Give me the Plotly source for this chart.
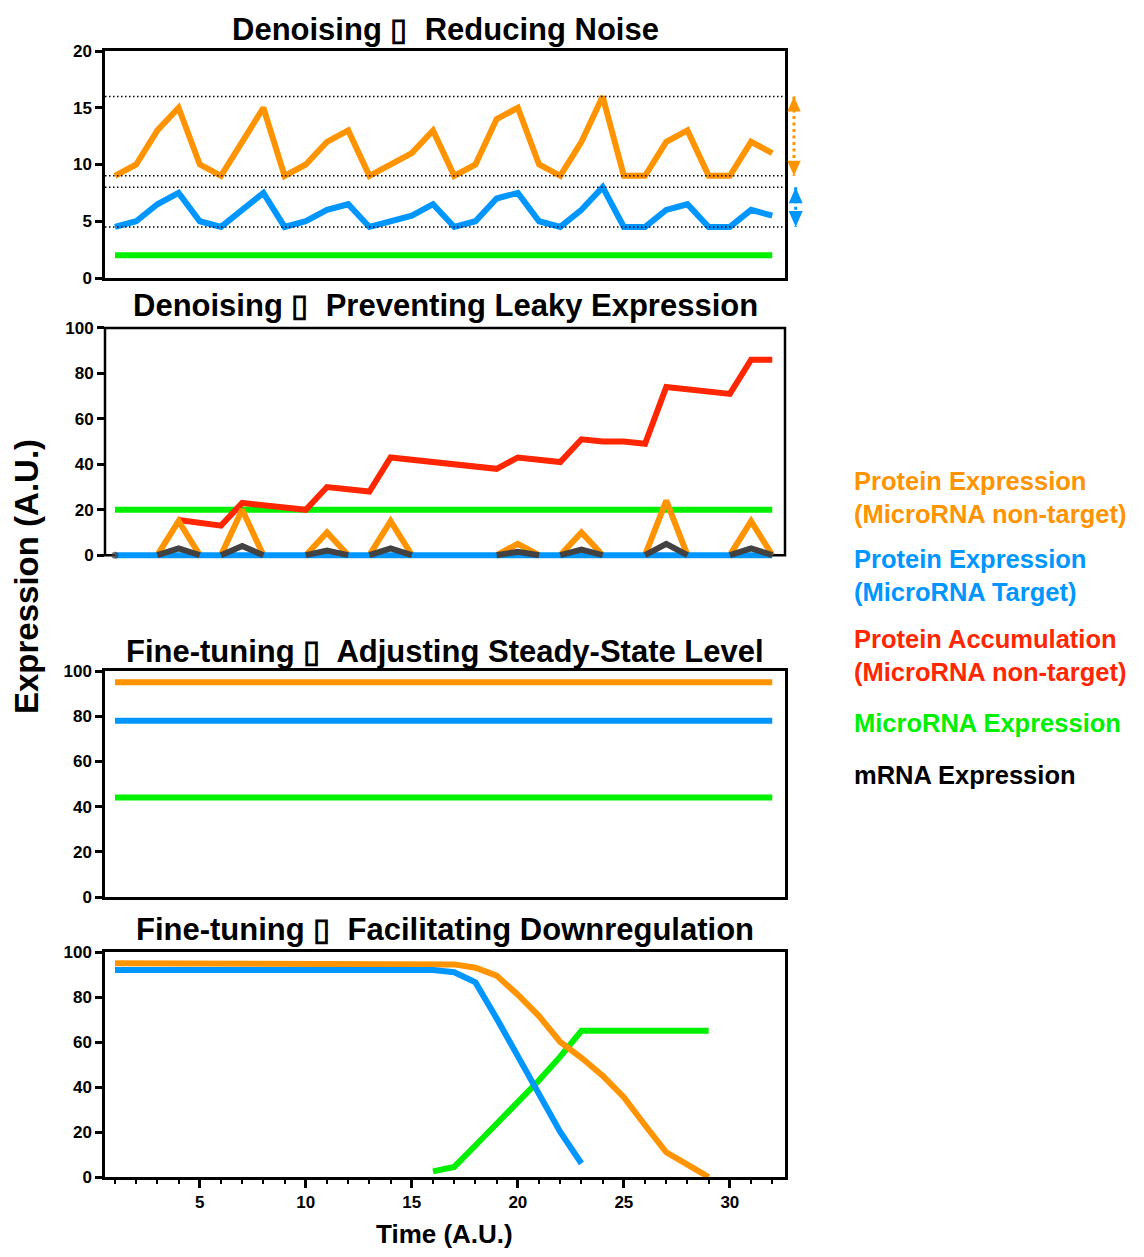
import plotly.graph_objects as go

# ---------------- data ----------------
time_axis_ticks = [5, 10, 15, 20, 25, 30]

# Panel 1: Denoising - Reducing Noise
p1_time = list(range(1, 33))
p1_nontarget = [9, 10, 13, 15, 10, 9, 12, 15, 9, 10, 12, 13, 9, 10, 11, 13,
                9, 10, 14, 15, 10, 9, 12, 16, 9, 9, 12, 13, 9, 9, 12, 11]
p1_target = [4.5, 5, 6.5, 7.5, 5, 4.5, 6, 7.5, 4.5, 5, 6, 6.5, 4.5, 5, 5.5, 6.5,
             4.5, 5, 7, 7.5, 5, 4.5, 6, 8, 4.5, 4.5, 6, 6.5, 4.5, 4.5, 6, 5.5]
p1_mirna_x = [1, 32]
p1_mirna_y = [2, 2]
p1_ref_levels = [16, 9, 8, 4.5]
p1_nontarget_range = [16, 9]
p1_target_range = [8, 4.5]

# Panel 2: Denoising - Preventing Leaky Expression
p2_accum_x = [4, 6, 7, 10, 11, 13, 14, 19, 20, 22, 23, 24, 25, 26, 27, 30, 31, 32]
p2_accum_y = [15.5, 13, 23, 20, 30, 28, 43, 38, 43, 41, 51, 50, 50, 49, 74, 71, 86, 86]
p2_nontarget_x = [[3, 4, 5], [6, 7, 8], [10, 11, 12], [13, 14, 15],
                  [19, 20, 21], [22, 23, 24], [26, 27, 28], [30, 31, 32]]
p2_nontarget_y = [[0, 15, 0], [0, 20, 0], [0, 10, 0], [0, 15, 0],
                  [0, 5, 0], [0, 10, 0], [0, 24, 0], [0, 15, 0]]
p2_mrna_x = [[1], [3, 4, 5], [6, 7, 8], [10, 11, 12], [13, 14, 15],
             [19, 20, 21], [22, 23, 24], [26, 27, 28], [30, 31, 32]]
p2_mrna_y = [[0], [0, 3, 0], [0, 4, 0], [0, 2, 0], [0, 3, 0],
             [0, 1.5, 0], [0, 2.5, 0], [0, 5, 0], [0, 3, 0]]
p2_target_x = [1, 32]
p2_target_y = [0, 0]
p2_mirna_x = [1, 32]
p2_mirna_y = [20, 20]

# Panel 3: Fine-tuning - Adjusting Steady-State Level
p3_x = [1, 32]
p3_nontarget = [95, 95]
p3_target = [78, 78]
p3_mirna = [44, 44]

# Panel 4: Fine-tuning - Facilitating Downregulation
p4_nontarget_x = [1, 16, 17, 18, 19, 20, 21, 22, 23, 24, 25, 26, 27, 28, 29]
p4_nontarget_y = [95, 95, 94.5, 93, 89.5, 81, 71.5, 60, 53, 45, 35.5, 23, 11, 5.5, 0]
p4_target_x = [1, 16, 17, 18, 19, 20, 21, 22, 23]
p4_target_y = [92, 92, 91, 86.5, 70.5, 53.5, 37.5, 20, 6]
p4_mirna_x = [16, 17, 18, 19, 20, 21, 22, 23, 29]
p4_mirna_y = [2.5, 4.5, 14, 23.5, 33.5, 43, 53.5, 65, 65]

titles = ["Denoising \u25af\u00a0 Reducing Noise",
          "Denoising \u25af\u00a0 Preventing Leaky Expression",
          "Fine-tuning \u25af\u00a0 Adjusting Steady-State Level",
          "Fine-tuning \u25af\u00a0 Facilitating Downregulation"]

legend_items = [("Protein Expression<br>(MicroRNA non-target)", "#FF9300"),
                ("Protein Expression<br>(MicroRNA Target)", "#0096FF"),
                ("Protein Accumulation<br>(MicroRNA non-target)", "#FF2600"),
                ("MicroRNA Expression", "#00F000"),
                ("mRNA Expression", "#000000")]

# ---------------- style ----------------
ORANGE = "#FF9300"
BLUE = "#0096FF"
RED = "#FF2600"
GREEN = "#00F000"
GREY = "#424242"
FONT = "Liberation Sans, Arial, Helvetica, sans-serif"
LW = 6
W, H = 1144, 1257

fig = go.Figure()


def add_line(x, y, color, n, width=LW):
    fig.add_trace(go.Scatter(
        x=x, y=y, mode="lines",
        line=dict(color=color, width=width),
        xaxis="x" if n == 1 else f"x{n}", yaxis="y" if n == 1 else f"y{n}",
        showlegend=False, hoverinfo="skip"))


def join_segments(xs, ys):
    ox, oy = [], []
    for sx, sy in zip(xs, ys):
        ox += list(sx) + [None]
        oy += list(sy) + [None]
    return ox, oy


# Panel 1
add_line(p1_time, p1_nontarget, ORANGE, 1)
add_line(p1_time, p1_target, BLUE, 1)
add_line(p1_mirna_x, p1_mirna_y, GREEN, 1)

# Panel 2
add_line(p2_mirna_x, p2_mirna_y, GREEN, 2)
add_line(p2_accum_x, p2_accum_y, RED, 2)
ox, oy = join_segments(p2_nontarget_x, p2_nontarget_y)
add_line(ox, oy, ORANGE, 2)
add_line(p2_target_x, p2_target_y, BLUE, 2)
gx, gy = join_segments(p2_mrna_x, p2_mrna_y)
sizes = []
for sx in p2_mrna_x:
    sizes += [LW + 1 if len(sx) == 1 else 0] * len(sx) + [0]
fig.add_trace(go.Scatter(
    x=gx, y=gy, mode="lines+markers",
    line=dict(color=GREY, width=LW),
    marker=dict(color=GREY, size=sizes, line=dict(width=0)),
    xaxis="x2", yaxis="y2", showlegend=False, hoverinfo="skip", cliponaxis=False))

# Panel 3
add_line(p3_x, p3_nontarget, ORANGE, 3)
add_line(p3_x, p3_target, BLUE, 3)
add_line(p3_x, p3_mirna, GREEN, 3)

# Panel 4
add_line(p4_mirna_x, p4_mirna_y, GREEN, 4)
add_line(p4_nontarget_x, p4_nontarget_y, ORANGE, 4)
add_line(p4_target_x, p4_target_y, BLUE, 4)

# ---------------- layout ----------------
def py(px):
    return 1 - px / H


xdom = [105 / W, 785 / W]
xrange_ = [0.53, 32.6]
tickfont = dict(family=FONT, size=17, color="black", weight="bold")

common_x = dict(range=xrange_, domain=xdom, showgrid=False, zeroline=False, automargin=False)
common_y = dict(showgrid=False, zeroline=False, ticks="outside", ticklen=7,
                tickwidth=2.5, tickcolor="black", tickfont=tickfont, automargin=False)

fig.update_layout(
    width=W, height=H,
    margin=dict(l=0, r=0, t=0, b=0, pad=0, autoexpand=False),
    paper_bgcolor="white", plot_bgcolor="white",
    xaxis=dict(**common_x, anchor="y", showline=True, linewidth=2.5, linecolor="black",
               mirror=True, ticks="", showticklabels=False),
    yaxis=dict(**common_y, anchor="x", domain=[py(278), py(51)], range=[0, 20],
               tickvals=[0, 5, 10, 15, 20], showline=True, linewidth=2.5,
               linecolor="black", mirror=True),
    xaxis2=dict(**common_x, anchor="y2", showline=False, ticks="", showticklabels=False),
    yaxis2=dict(**common_y, anchor="x2", domain=[py(562), py(325.7)], range=[-3, 101],
                tickvals=[0, 20, 40, 60, 80, 100], showline=False),
    xaxis3=dict(**common_x, anchor="y3", showline=True, linewidth=2.5, linecolor="black",
                mirror=True, ticks="", showticklabels=False),
    yaxis3=dict(**common_y, anchor="x3", domain=[py(897), py(671)], range=[0, 100],
                tickvals=[0, 20, 40, 60, 80, 100], showline=True, linewidth=2.5,
                linecolor="black", mirror=True),
    xaxis4=dict(**common_x, anchor="y4", showline=True, linewidth=2.5, linecolor="black",
                mirror=True, ticks="outside", ticklen=8, tickwidth=2.5, tickcolor="black",
                tickvals=time_axis_ticks, tickfont=tickfont,
                minor=dict(ticks="outside", dtick=1, tick0=0, ticklen=4,
                           tickwidth=2, tickcolor="black")),
    yaxis4=dict(**common_y, anchor="x4", domain=[py(1177), py(952)], range=[0, 100],
                tickvals=[0, 20, 40, 60, 80, 100], showline=True, linewidth=2.5,
                linecolor="black", mirror=True),
)

shapes = []
# panel 2 frame (drawn below the traces so baseline series sit on it)
shapes.append(dict(type="rect", xref="x2 domain", yref="y2", x0=0, x1=1, y0=0, y1=100,
                   line=dict(color="black", width=2.5), layer="below"))
# panel 1 dotted reference levels
for v in p1_ref_levels:
    shapes.append(dict(type="line", xref="x domain", yref="y", x0=0, x1=1, y0=v, y1=v,
                       line=dict(color="black", width=1.5, dash="1.5px,2.5px")))


def double_arrow(top, bottom, color, xanchor, half_w, head_h):
    shapes.append(dict(type="line", xref="x domain", yref="y", xsizemode="pixel",
                       xanchor=xanchor, x0=0, x1=0, y0=top, y1=bottom,
                       line=dict(color=color, width=3, dash="3px,3.5px")))
    shapes.append(dict(type="path", xref="x domain", yref="y", xsizemode="pixel",
                       ysizemode="pixel", xanchor=xanchor, yanchor=top,
                       path=f"M 0,0 L {half_w},{-head_h} L {-half_w},{-head_h} Z",
                       fillcolor=color, line=dict(width=0)))
    shapes.append(dict(type="path", xref="x domain", yref="y", xsizemode="pixel",
                       ysizemode="pixel", xanchor=xanchor, yanchor=bottom,
                       path=f"M 0,0 L {half_w},{head_h} L {-half_w},{head_h} Z",
                       fillcolor=color, line=dict(width=0)))


double_arrow(p1_nontarget_range[0], p1_nontarget_range[1], ORANGE, 1.0132, 6.7, 15)
double_arrow(p1_target_range[0], p1_target_range[1], BLUE, 1.0157, 7, 16)
fig.update_layout(shapes=shapes)

ann = []
title_y = [29, 306, 651, 929]
for t, yy in zip(titles, title_y):
    ann.append(dict(text=t, xref="paper", yref="paper", x=445 / W, y=py(yy),
                    xanchor="center", yanchor="middle", showarrow=False,
                    font=dict(family=FONT, size=31, color="black", weight="bold")))
ann.append(dict(text="Expression (A.U.)", xref="paper", yref="paper", x=26 / W, y=py(577),
                xanchor="center", yanchor="middle", showarrow=False, textangle=-90,
                font=dict(family=FONT, size=33, color="black", weight="bold")))
ann.append(dict(text="Time (A.U.)", xref="paper", yref="paper", x=444 / W, y=py(1234),
                xanchor="center", yanchor="middle", showarrow=False,
                font=dict(family=FONT, size=26, color="black", weight="bold")))
legend_y = [497, 575, 656, 723, 775]
for (txt, col), yy in zip(legend_items, legend_y):
    ann.append(dict(text=txt, xref="paper", yref="paper", x=852 / W, y=py(yy),
                    xanchor="left", yanchor="middle", align="left", showarrow=False,
                    font=dict(family=FONT, size=25.5, color=col, weight="bold")))
fig.update_layout(annotations=ann)

fig.write_html("out.html",
               config={"displayModeBar": False},
               post_script="document.body.style.margin='0';document.body.style.overflow='hidden';")
